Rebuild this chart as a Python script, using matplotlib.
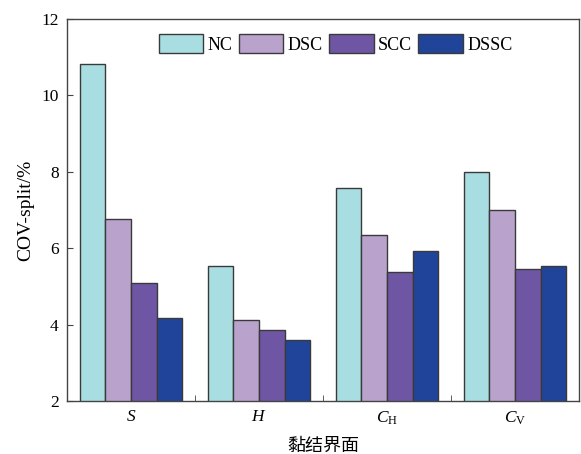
import numpy as np
import matplotlib
matplotlib.use("Agg")
import matplotlib.pyplot as plt
from matplotlib.ticker import FixedLocator

plt.rcParams["font.family"] = ["Liberation Serif", "Noto Sans CJK SC"]
plt.rcParams["mathtext.fontset"] = "custom"
plt.rcParams["mathtext.rm"] = "Liberation Serif"
plt.rcParams["mathtext.it"] = "Liberation Serif:italic"

categories = ["$S$", "$H$", "$C_{\\mathrm{H}}$", "$C_{\\mathrm{V}}$"]
series_names = ["NC", "DSC", "SCC", "DSSC"]
nc = [10.82, 5.54, 7.58, 7.99]
dsc = [6.76, 4.12, 6.34, 6.99]
scc = [5.10, 3.86, 5.37, 5.46]
dssc = [4.16, 3.60, 5.93, 5.54]
colors = ["#a8dde2", "#b9a3cd", "#6f56a4", "#21449b"]

fig = plt.figure(figsize=(5.81, 4.54), dpi=100)
ax = fig.add_axes([0.1153, 0.1167, 0.8813, 0.8415])

x = np.arange(len(categories))
width = 0.2
for i, (vals, name) in enumerate(zip([nc, dsc, scc, dssc], series_names)):
    ax.bar(x + (i - 1.5) * width, vals, width, color=colors[i], edgecolor="#3a3a3a",
           linewidth=1.0, label=name, zorder=2)

ax.set_xlim(-0.5, 3.5)
ax.set_ylim(2, 12)
ax.set_yticks([2, 4, 6, 8, 10, 12])
ax.set_xticks(x)
ax.set_xticklabels(categories, fontsize=12.5)
ax.xaxis.set_minor_locator(FixedLocator([0.5, 1.5, 2.5]))
ax.tick_params(axis="x", which="major", length=0, pad=6)
ax.tick_params(axis="x", which="minor", direction="in", length=4, color="#444444")
ax.tick_params(axis="y", direction="in", length=4, labelsize=12.5, pad=6, color="#444444")
for s in ax.spines.values():
    s.set_color("#444444")
    s.set_linewidth(1.0)

ax.set_ylabel("COV-split/%", fontsize=14, labelpad=5)
ax.set_xlabel("黏结界面", fontsize=13, family=["Noto Sans CJK SC"], labelpad=7)

ax.legend(loc="center left", bbox_to_anchor=(0.18, 0.935), ncol=4, frameon=False,
          fontsize=13, handlelength=2.45, handleheight=1.25, columnspacing=0.35,
          handletextpad=0.25, borderpad=0, borderaxespad=0)

fig.savefig("out.png", dpi=100)
